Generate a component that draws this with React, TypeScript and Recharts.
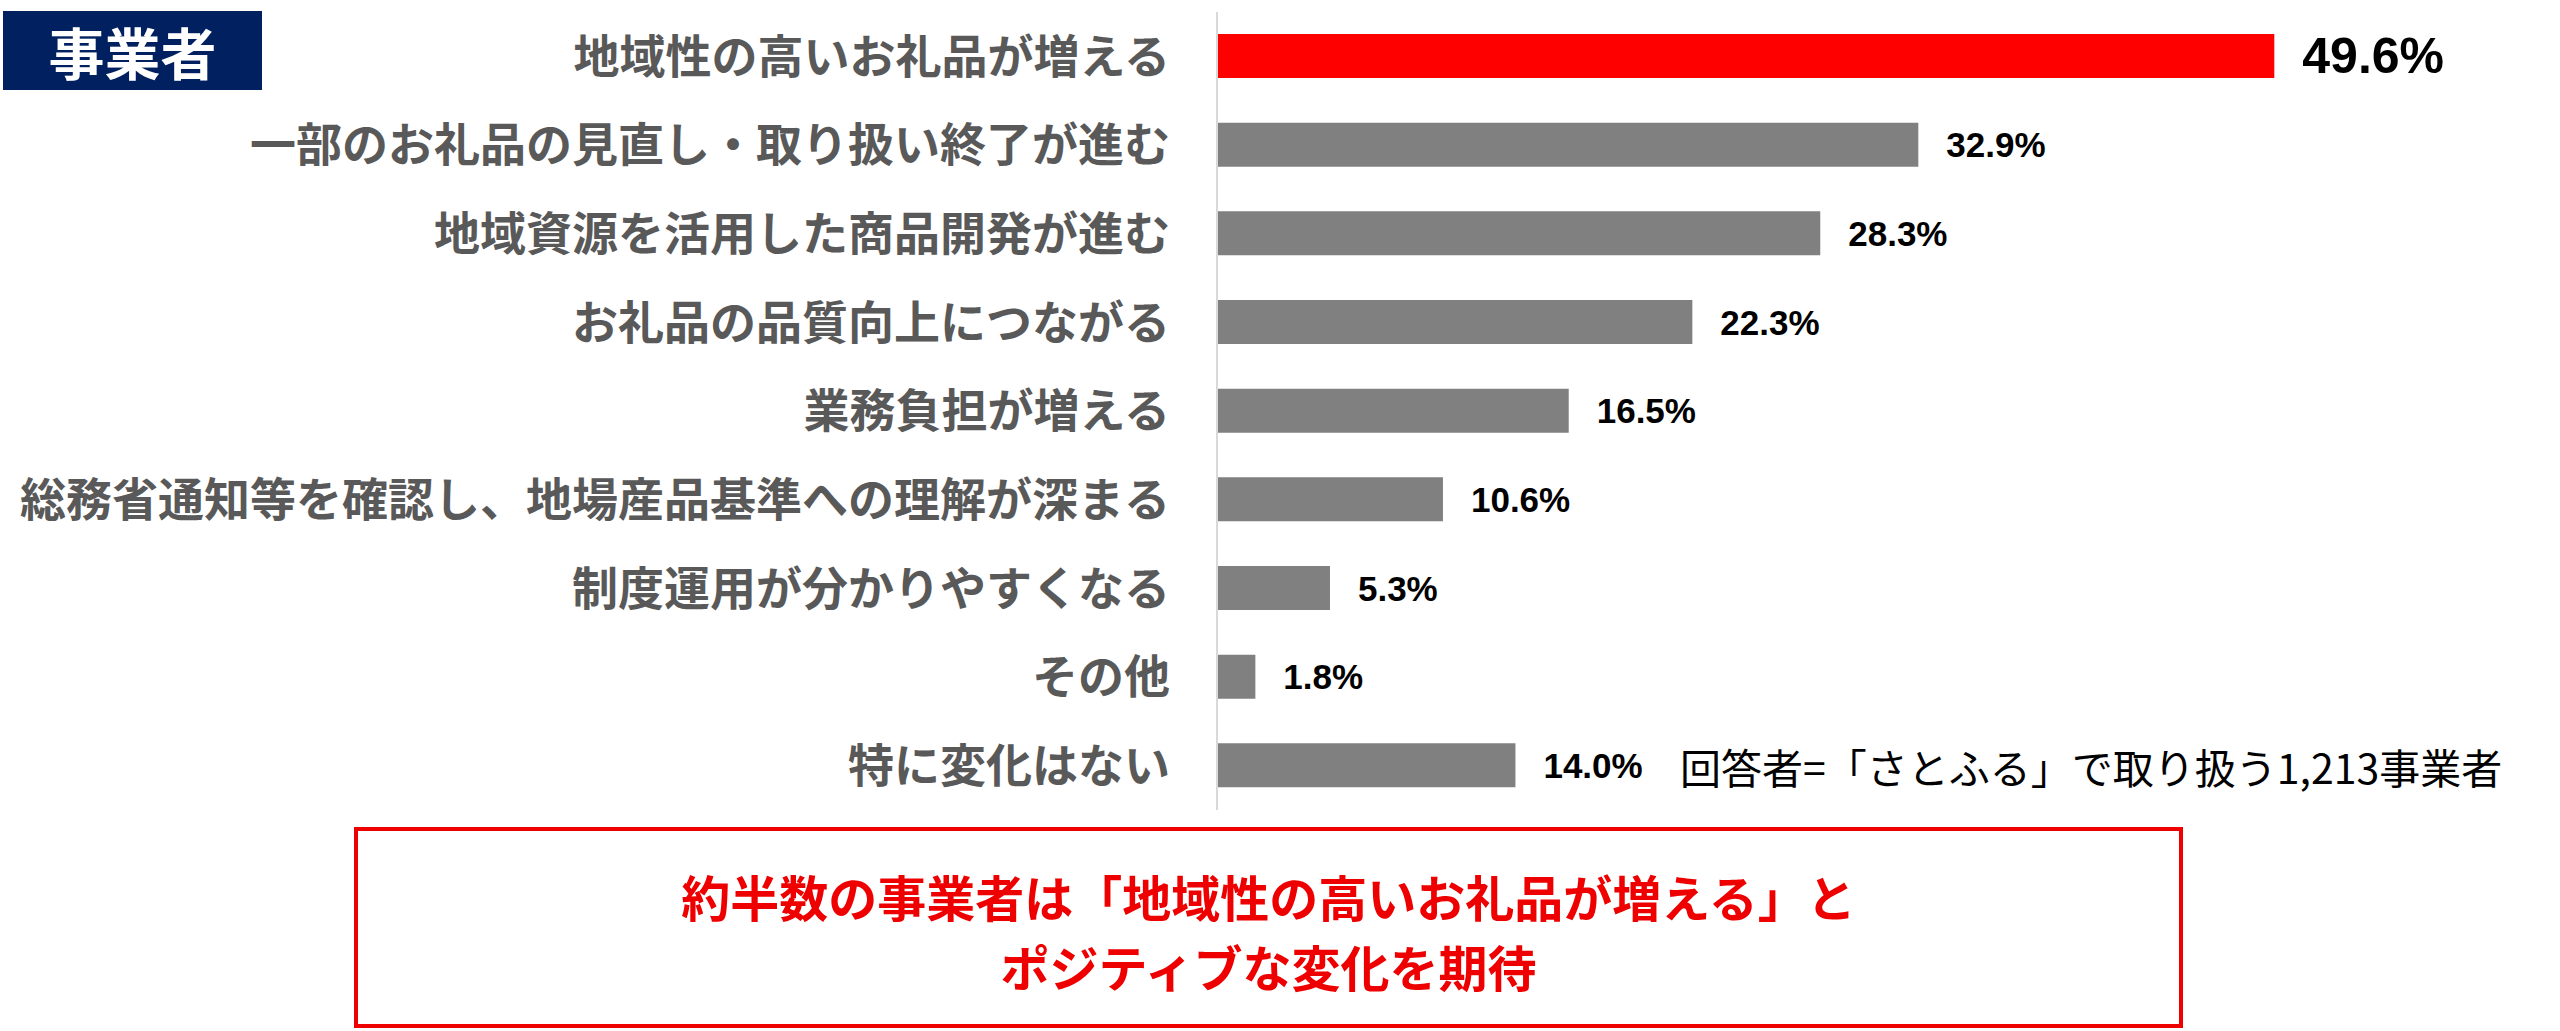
import React from "react";
import { BarChart, Bar, XAxis, YAxis, Cell, LabelList } from "recharts";

const categories = [
  "地域性の高いお礼品が増える",
  "一部のお礼品の見直し・取り扱い終了が進む",
  "地域資源を活用した商品開発が進む",
  "お礼品の品質向上につながる",
  "業務負担が増える",
  "総務省通知等を確認し、地場産品基準への理解が深まる",
  "制度運用が分かりやすくなる",
  "その他",
  "特に変化はない",
];
const values = [49.6, 32.9, 28.3, 22.3, 16.5, 10.6, 5.3, 1.8, 14.0];
const barColors = ["#FF0000", "#808080", "#808080", "#808080", "#808080", "#808080", "#808080", "#808080", "#808080"];
const headerText = "事業者";
const noteText = "回答者=「さとふる」で取り扱う1,213事業者";
const calloutLines = ["約半数の事業者は「地域性の高いお礼品が増える」と", "ポジティブな変化を期待"];

const data = categories.map((name, i) => ({ name, value: values[i] }));

const JP = '"Noto Sans CJK JP", "Noto Sans", sans-serif';
const NUM = '"Liberation Sans", Arial, sans-serif';

const ValueLabel = (props: any) => {
  const { x, y, width, height, value, index } = props;
  const big = index === 0;
  return (
    <text
      x={x + width + 28}
      y={y + height / 2}
      dominantBaseline="central"
      textAnchor="start"
      fontFamily={NUM}
      fontWeight="bold"
      fontSize={big ? 50 : 35}
      fill="#000000"
    >
      {`${Number(value).toFixed(1)}%`}
    </text>
  );
};

export default function App() {
  return (
    <div style={{ position: "absolute", left: 0, top: 0, width: 2560, height: 1031, background: "#ffffff" }}>
      <BarChart
        width={2560}
        height={1031}
        data={data}
        layout="vertical"
        margin={{ top: 12, right: 64, bottom: 221, left: 0 }}
        barSize={44}
      >
        <XAxis type="number" domain={[0, 60]} hide />
        <YAxis
          type="category"
          dataKey="name"
          width={1217}
          interval={0}
          tickLine={false}
          tickMargin={41}
          axisLine={{ stroke: "#d9d9d9", strokeWidth: 2 }}
          tick={{ fontSize: 46, fontWeight: "bold", fill: "#595959", fontFamily: JP }}
        />
        <Bar dataKey="value" isAnimationActive={false}>
          {data.map((d, i) => (
            <Cell key={d.name} fill={barColors[i]} />
          ))}
          <LabelList dataKey="value" content={ValueLabel} />
        </Bar>
      </BarChart>

      <div
        style={{
          position: "absolute",
          left: 3,
          top: 11,
          width: 259,
          height: 79,
          background: "#002060",
          color: "#ffffff",
          fontFamily: JP,
          fontWeight: "bold",
          fontSize: 56,
          display: "flex",
          alignItems: "center",
          justifyContent: "center",
        }}
      >
        {headerText}
      </div>

      <div
        style={{
          position: "absolute",
          left: 1680,
          top: 740,
          height: 52,
          fontFamily: JP,
          fontSize: 41,
          color: "#000000",
          display: "flex",
          alignItems: "center",
          whiteSpace: "nowrap",
        }}
      >
        {noteText}
      </div>

      <div
        style={{
          position: "absolute",
          left: 354,
          top: 827,
          width: 1829,
          height: 201,
          boxSizing: "border-box",
          border: "4px solid #ee0000",
          display: "flex",
          flexDirection: "column",
          alignItems: "center",
          justifyContent: "center",
          fontFamily: JP,
          fontWeight: "bold",
          fontSize: 49,
          lineHeight: "70px",
          color: "#ee0000",
          paddingTop: 6,
        }}
      >
        {calloutLines.map((l) => (
          <div key={l}>{l}</div>
        ))}
      </div>
    </div>
  );
}
